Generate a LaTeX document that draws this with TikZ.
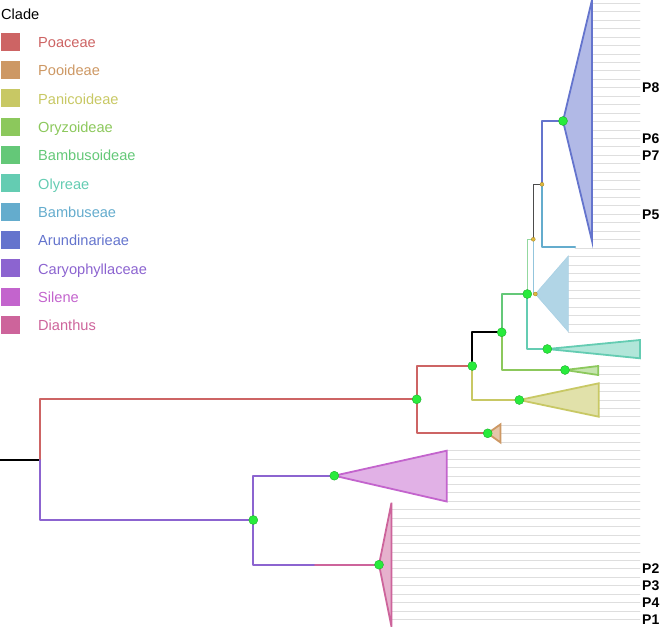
\documentclass[tikz,border=0pt]{standalone}
\usepackage{fontspec}
\setmainfont{Liberation Sans}
\definecolor{cPoa}{RGB}{205,100,100}
\definecolor{cPoo}{RGB}{205,152,100}
\definecolor{cPan}{RGB}{200,200,100}
\definecolor{cOry}{RGB}{140,200,92}
\definecolor{cBsd}{RGB}{100,200,120}
\definecolor{cOly}{RGB}{100,204,178}
\definecolor{cBmb}{RGB}{100,172,205}
\definecolor{cAru}{RGB}{100,116,205}
\definecolor{cCar}{RGB}{140,100,208}
\definecolor{cSil}{RGB}{195,100,205}
\definecolor{cDia}{RGB}{205,100,155}
\definecolor{dotgreen}{RGB}{40,235,60}
\definecolor{dotyel}{RGB}{225,185,60}
\definecolor{leafgray}{RGB}{222,222,222}
\begin{document}
\begin{tikzpicture}[x=1pt,y=-1pt,line join=round,line cap=round,
  br/.style={line width=2pt},
  thinbr/.style={line width=0.9pt},
  tri/.style={line width=1.8pt,line join=miter},
  gdot/.style={circle,fill=dotgreen,draw=dotgreen!75!black,line width=0.4pt,inner sep=0pt,minimum size=9pt},
  ydot/.style={circle,fill=dotyel,draw=dotyel!70!black,line width=0.3pt,inner sep=0pt,minimum size=4pt},
  leaf/.style={draw=leafgray,line width=0.8pt},
  legbox/.style={inner sep=0pt,minimum width=19pt,minimum height=18pt},
  legtxt/.style={inner sep=0pt,font=\fontsize{14.6}{16}\selectfont},
  ptxt/.style={anchor=west,inner sep=0pt,font=\bfseries\fontsize{14}{16}\selectfont}]
  \useasboundingbox (0,0) rectangle (660,629);
  % --- Lá: khoảng cách giữa các dòng ---
  \def\ytop{3.3} \def\dy{8.44} \def\xend{640}

  % --- Các nút của cây ---
  \coordinate (r0) at (0,460);
  \coordinate (r) at (40,460);
  \coordinate (nPoa) at (416.7,399.3);
  \coordinate (nBOP) at (472.3,366);
  \coordinate (nPoo) at (487.7,433.3);
  \coordinate (nBO) at (501.7,332.3);
  \coordinate (nPan) at (519.3,400);
  \coordinate (nBam) at (527.3,294);
  \coordinate (nOly) at (547.3,349);
  \coordinate (nOry) at (565,370);
  \coordinate (yA) at (533.3,239.3);
  \coordinate (yB) at (542,184.3);
  \coordinate (yC) at (535.3,294);
  \coordinate (nAru) at (563,121);
  \coordinate (lBmb) at (575,247);
  \coordinate (nCar) at (253.3,520);
  \coordinate (nSil) at (334.3,475.7);
  \coordinate (mDia) at (315,564.7);
  \coordinate (nDia) at (379,564.7);

  % --- Đường lá ---
  \foreach \a/\b/\xs in {0/28/592, 29/29/575, 30/39/568.3, 43/44/598, 45/49/598.5, 50/52/500.5, 53/59/446.7, 60/73/391.5}
    \foreach \i in {\a,...,\b}
      \draw[leaf] (\xs,{\ytop+\dy*\i}) -- (\xend,{\ytop+\dy*\i});

  % --- Nhánh ---
  \draw[br,black] (r0) -- (r);
  \draw[br,cPoa] (r) |- (nPoa);
  \draw[br,cCar] (r) |- (nCar);
  \draw[br,cPoa] (nPoa) |- (nBOP);
  \draw[br,cPoa] (nPoa) |- (nPoo);
  \draw[br,black] (nBOP) |- (nBO);
  \draw[br,cPan] (nBOP) |- (nPan);
  \draw[br,cBsd] (nBO) |- (nBam);
  \draw[br,cOry] (nBO) |- (nOry);
  \draw[br,cOly] (nBam) |- (nOly);
  \draw[thinbr,cBsd!70] (nBam) |- (yA);
  \draw[line width=1.3pt,black!70] (yA) |- (yB);
  \draw[thinbr,cBmb!70] (yA) |- (yC);
  \draw[br,cAru] (yB) |- (nAru);
  \draw[br,cBmb] (yB) |- (lBmb);
  \draw[br,cCar] (nCar) |- (nSil);
  \draw[br,cCar] (nCar) |- (mDia);
  \draw[br,cDia] (mDia) -- (nDia);

  % --- Tam giác các nhánh thu gọn ---
  \filldraw[tri,draw=cAru,fill=cAru!50] (nAru) -- (592,0) -- (592,241) -- cycle;
  \filldraw[tri,line width=0.6pt,draw=cBmb!55,fill=cBmb!50] (yC) -- (568.3,256) -- (568.3,331.7) -- cycle;
  \filldraw[tri,draw=cOly,fill=cOly!50] (nOly) -- (640,340) -- (640,358.3) -- cycle;
  \filldraw[tri,draw=cOry,fill=cOry!50] (nOry) -- (598.3,366) -- (598.3,375) -- cycle;
  \filldraw[tri,draw=cPan,fill=cPan!55] (nPan) -- (598.7,383.3) -- (598.7,416.7) -- cycle;
  \filldraw[tri,draw=cPoo,fill=cPoo!55] (nPoo) -- (500.5,424.3) -- (500.5,442.5) -- cycle;
  \filldraw[tri,draw=cSil,fill=cSil!50] (nSil) -- (446.7,450.7) -- (446.7,501.5) -- cycle;
  \filldraw[tri,draw=cDia,fill=cDia!50] (nDia) -- (391.5,502.7) -- (391.5,626.7) -- cycle;

  % --- Điểm nút ---
  \foreach \n in {nPoa,nBOP,nPoo,nBO,nPan,nBam,nOly,nOry,nAru,nCar,nSil,nDia}
    \node[gdot] (d\n) at (\n) {};
  \foreach \n in {yA,yB,yC}
    \node[ydot] (d\n) at (\n) {};

  % --- Nhãn ---
  \foreach \lb/\i in {P8/10, P6/16, P7/18, P5/25, P2/67, P3/69, P4/71, P1/73}
    \node[ptxt] (l\lb) at (642,{\ytop+\dy*\i}) {\lb};

  % --- Chú thích ---
  \node[legtxt,anchor=base west] (clade) at (1,19.3) {Clade};
  \foreach \nm/\col [count=\k from 0] in {Poaceae/cPoa, Pooideae/cPoo, Panicoideae/cPan, Oryzoideae/cOry, Bambusoideae/cBsd, Olyreae/cOly, Bambuseae/cBmb, Arundinarieae/cAru, Caryophyllaceae/cCar, Silene/cSil, Dianthus/cDia}{
    \node[legbox,fill=\col] (sq\k) at (10.5,{41.7+28.33*\k}) {};
    \node[legtxt,text=\col,anchor=base west] (lg\k) at (38,{47.6+28.33*\k}) {\nm};
  }
\end{tikzpicture}
\end{document}
